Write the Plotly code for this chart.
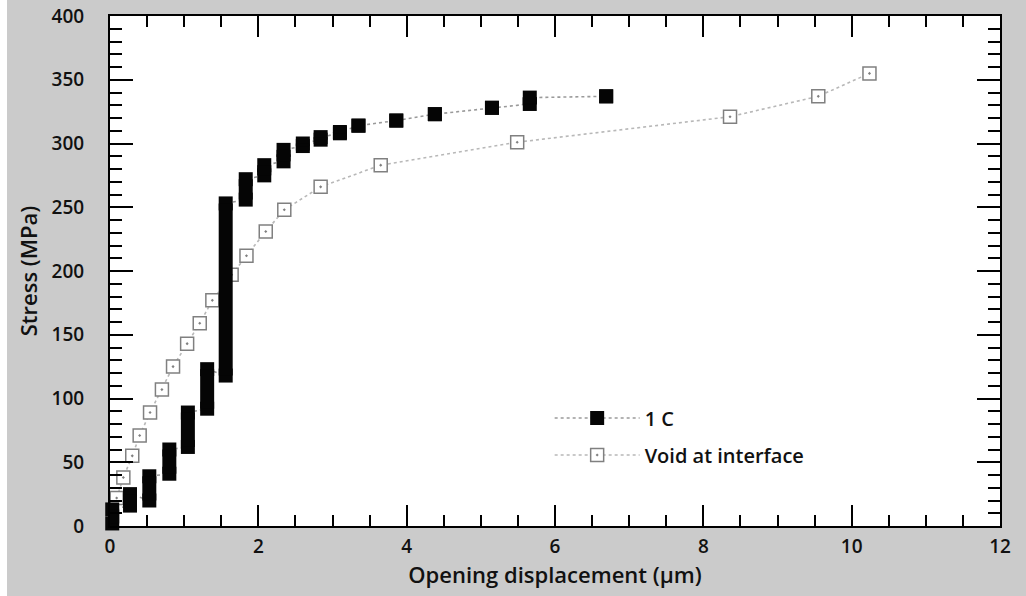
import plotly.graph_objects as go

# ---- data ----
# "1 C" series: each loading step appears as a vertical streak from stress_lo to stress_hi
onec_x = [0.03, 0.27, 0.53, 0.80, 1.05, 1.31, 1.56, 1.83, 2.08, 2.34, 2.60, 2.84, 3.10, 3.35, 3.86, 4.38, 5.15, 5.66, 6.69]
onec_lo = [2, 16, 20, 41, 62, 92, 118, 256, 275, 286, 298, 303, 308, 314, 318, 323, 328, 331, 337]
onec_hi = [13, 25, 39, 60, 89, 123, 253, 272, 283, 295, 300, 305, 309, 314, 318, 323, 328, 336, 337]

void_x = [0.09, 0.18, 0.30, 0.40, 0.54, 0.70, 0.85, 1.04, 1.21, 1.38, 1.64, 1.84, 2.10, 2.35, 2.84, 3.65, 5.49, 8.36, 9.55, 10.24]
void_y = [22, 38, 55, 71, 89, 107, 125, 143, 159, 177, 197, 212, 231, 248, 266, 283, 301, 321, 337, 355]

x_title = "Opening displacement (\u00b5m)"
y_title = "Stress (MPa)"
names = ["1 C", "Void at interface"]

FONT = "Open Sans"
GRAY_BG = "#cbcbcb"
INK = "#111111"

# interleave low/high points of each streak for the main (legend) trace
main_x, main_y = [], []
bar_x, bar_y = [], []
for x, lo, hi in zip(onec_x, onec_lo, onec_hi):
    main_x += [x, x]
    main_y += [lo, hi]
    bar_x += [x, x, None]
    bar_y += [lo, hi, None]

fig = go.Figure()

# void series
fig.add_trace(go.Scatter(
    x=void_x, y=void_y, mode="lines+markers", name=names[1],
    line=dict(color="#b8b8b8", width=1.6, dash="dot"),
    marker=dict(symbol="square-dot", size=13, color="white",
                line=dict(color="#808080", width=1.5)),
    cliponaxis=False, legendgroup="b", legendrank=2,
))

# 1 C series
fig.add_trace(go.Scatter(
    x=main_x, y=main_y, mode="lines+markers", name=names[0],
    line=dict(color="#9a9a9a", width=1.6, dash="dot"),
    marker=dict(symbol="square", size=14, color="#050505", line=dict(width=0)),
    cliponaxis=False, legendgroup="a", legendrank=1,
))

# vertical streaks of the 1 C series (drawn on top so the streaks are solid)
fig.add_trace(go.Scatter(
    x=bar_x, y=bar_y, mode="lines", showlegend=False, hoverinfo="skip",
    line=dict(color="#050505", width=14), cliponaxis=False,
))

axis_common = dict(
    showline=True, linewidth=2, linecolor="black", mirror="ticks",
    ticks="inside", tickcolor="black", tickwidth=1.5,
    showgrid=False, zeroline=False, automargin=False,
    tickfont=dict(family=FONT, size=19, color=INK, weight=600),
    title_font=dict(family=FONT, size=22, color=INK, weight=600),
)

fig.update_xaxes(
    range=[0, 12], tick0=0, dtick=2, ticklen=21,
    minor=dict(dtick=0.5, ticklen=11, ticks="inside", tickcolor="black", tickwidth=1.5),
    ticklabelstandoff=2,
    title=dict(text=x_title, standoff=2),
    **axis_common,
)
fig.update_yaxes(
    range=[0, 400], tick0=0, dtick=50, ticklen=23,
    minor=dict(dtick=10, ticklen=12, ticks="inside", tickcolor="black", tickwidth=1.5),
    ticklabelstandoff=20,
    title=dict(text=y_title, standoff=8),
    **axis_common,
)

fig.update_layout(
    width=1026, height=596,
    margin=dict(l=110, r=26, t=16, b=70, pad=0),
    paper_bgcolor=GRAY_BG, plot_bgcolor="white",
    showlegend=True,
    legend=dict(
        x=0.494, y=0.250, xanchor="left", yanchor="top",
        bgcolor="rgba(0,0,0,0)", itemwidth=85, tracegroupgap=8,
        font=dict(family=FONT, size=20, color=INK, weight=600),
    ),
    shapes=[dict(type="rect", xref="paper", yref="paper",
                 x0=-0.13, x1=-110 / 890 + 7 / 890, y0=-0.2, y1=1.1,
                 fillcolor="white", line=dict(width=0), layer="below")],
)

fig.write_html("out.html")
